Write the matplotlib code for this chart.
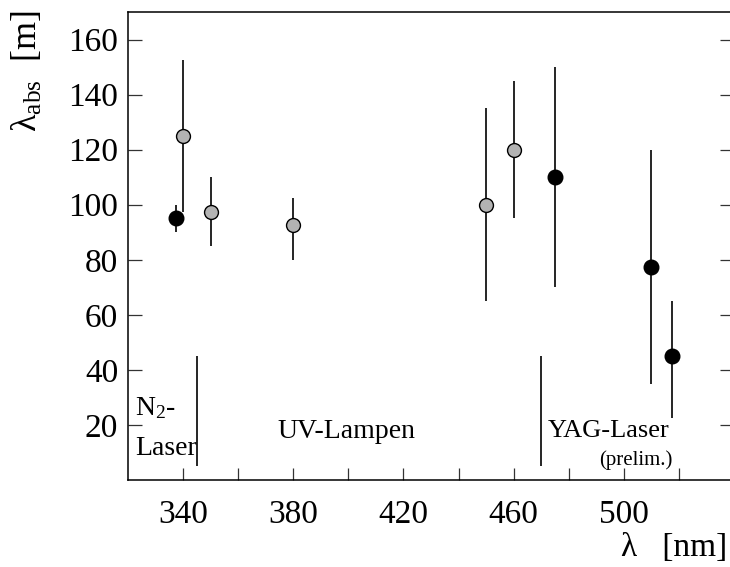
import matplotlib
matplotlib.use("Agg")
import matplotlib.pyplot as plt
from matplotlib.ticker import FixedLocator, NullFormatter

plt.rcParams["font.family"] = ["Liberation Serif", "DejaVu Serif"]
plt.rcParams["mathtext.fontset"] = "custom"
plt.rcParams["mathtext.rm"] = "Liberation Serif"
plt.rcParams["mathtext.default"] = "regular"

# Absorption length measurements: laser (black) and UV lamp (grey)
laser_wl = [337.5, 475, 510, 517.5]
laser_abs = [95, 110, 77.5, 45]
laser_err_lo = [5, 40, 42.5, 22.5]
laser_err_hi = [5, 40, 42.5, 20]

lamp_wl = [340, 350, 380, 450, 460]
lamp_abs = [125, 97.5, 92.5, 100, 120]
lamp_err_lo = [27.5, 12.5, 12.5, 35, 25]
lamp_err_hi = [27.5, 12.5, 10, 35, 25]

# Boundaries between light-source regions
region_edges = [345, 470]
region_span = [5, 45]

x_major = [340, 380, 420, 460, 500]
x_minor = [360, 400, 440, 480, 520]
y_ticks = [20, 40, 60, 80, 100, 120, 140, 160]

W, H = 730, 567
fig = plt.figure(figsize=(W / 100, H / 100), dpi=100)
ax = fig.add_axes([128 / W, (H - 480) / H, (734 - 128) / W, (480 - 12) / H])

ax.errorbar(lamp_wl, lamp_abs, yerr=[lamp_err_lo, lamp_err_hi], fmt="o",
            color="black", mfc="#b3b3b3", mec="black", mew=1.0, ms=10,
            elinewidth=1.2, capsize=0, zorder=3)
ax.errorbar(laser_wl, laser_abs, yerr=[laser_err_lo, laser_err_hi], fmt="o",
            color="black", mfc="black", mec="black", ms=10.5,
            elinewidth=1.2, capsize=0, zorder=4)

ax.vlines(region_edges, region_span[0], region_span[1], color="black", lw=1.2)

ax.set_xlim(320, 540)
ax.set_ylim(0, 170)

ax.xaxis.set_major_locator(FixedLocator(x_major))
ax.xaxis.set_minor_locator(FixedLocator(x_minor))
ax.xaxis.set_minor_formatter(NullFormatter())
ax.yaxis.set_major_locator(FixedLocator(y_ticks))

ax.tick_params(axis="x", which="both", direction="in", length=9, width=0.9,
               labelsize=24, pad=14, top=False, color="#333333")
ax.tick_params(axis="y", which="major", direction="in", length=10, width=0.9,
               labelsize=24, pad=7, right=True, color="#333333")
for sp in ax.spines.values():
    sp.set_linewidth(1.1)

ts = 20
ax.text(322.5, 23.6, r"N$_2$-", fontsize=ts, ha="left", va="baseline")
ax.text(322.5, 9.1, "Laser", fontsize=ts, ha="left", va="baseline")
ax.text(374.4, 15.3, "UV-Lampen", fontsize=ts, ha="left", va="baseline")
ax.text(472.3, 15.6, "YAG-Laser", fontsize=19, ha="left", va="baseline")
ax.text(491.0, 5.3, "(prelim.)", fontsize=15, ha="left", va="baseline")

fig.text(28 / W, 1 - 10 / H, r"λ$_{\rm abs}$  [m]", rotation=90,
         fontsize=26, ha="center", va="top")
fig.text(727 / W, 1 - 548 / H, "λ   [nm]", fontsize=24, ha="right",
         va="center")

fig.savefig("out.png", dpi=100)
